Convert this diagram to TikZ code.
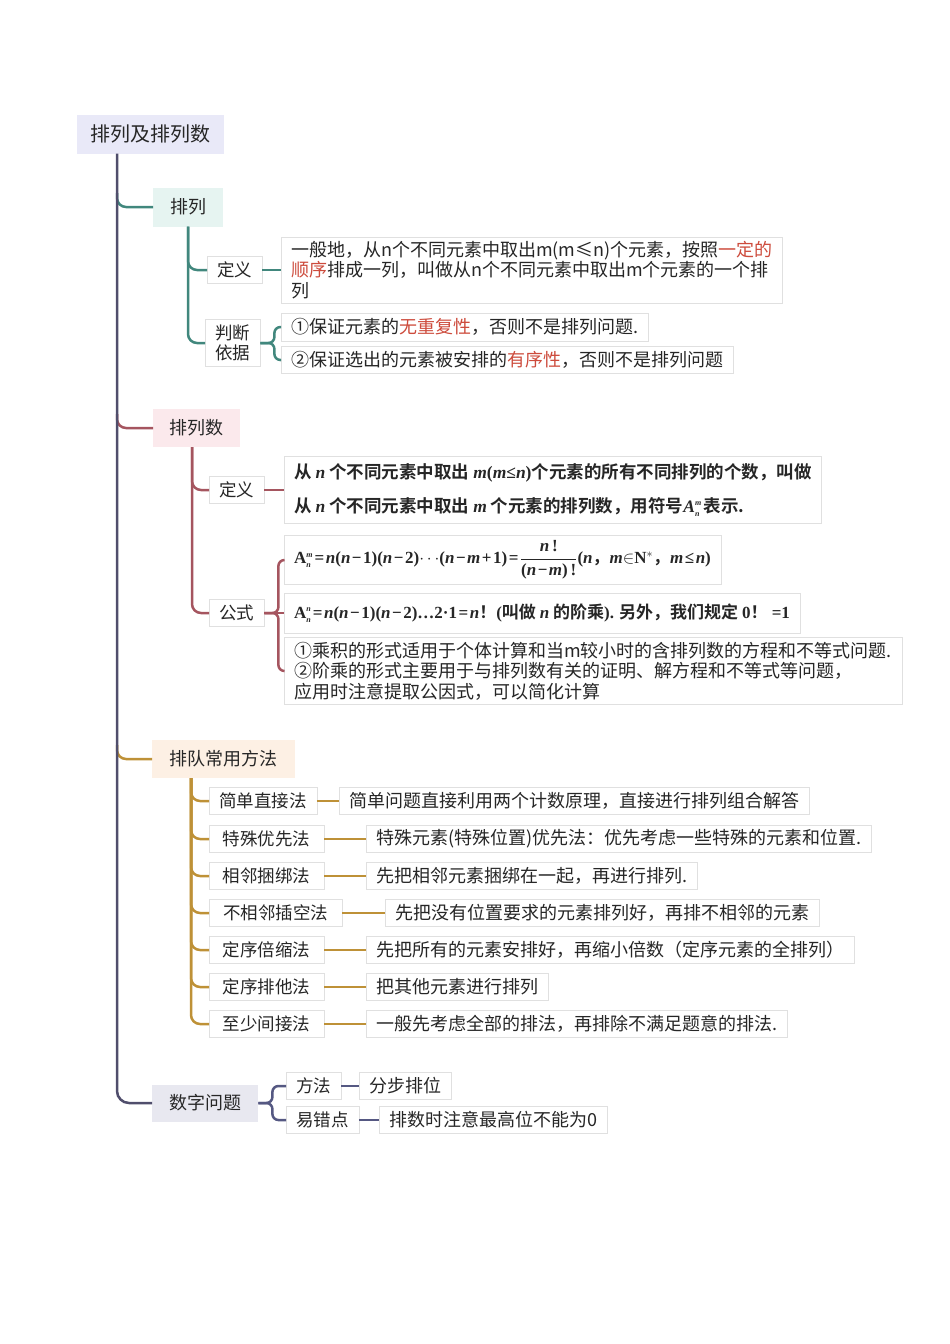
\documentclass[tikz,border=0pt]{standalone}
\usepackage{fontspec}
\setmainfont{Noto Sans CJK SC}[BoldFont={Noto Sans CJK SC Bold}]
\newfontfamily\tms{Liberation Serif}
\usetikzlibrary{positioning,calc}
\definecolor{spinec}{RGB}{80,78,108}
\definecolor{tealc}{RGB}{65,135,125}
\definecolor{pinkc}{RGB}{165,85,95}
\definecolor{goldc}{RGB}{190,145,55}
\definecolor{navyc}{RGB}{85,88,130}
\definecolor{rootf}{RGB}{233,233,248}
\definecolor{tealf}{RGB}{230,244,241}
\definecolor{pinkf}{RGB}{251,233,236}
\definecolor{goldf}{RGB}{253,240,228}
\definecolor{navyf}{RGB}{232,232,240}
\definecolor{hlred}{RGB}{205,75,60}
\newcommand\tm[1]{{\tms #1}}
\newcommand\vn[1]{{\tms\itshape #1}}
\newcommand\sstack[2]{$\hbox{\tm{A}}^{\hbox{\fontsize{8}{8}\selectfont\tms\itshape #1}}_{\hbox{\fontsize{8}{8}\selectfont\tms\itshape #2}}$}
\newcommand\hl[1]{\textcolor{hlred}{#1}}
\newcommand\op[1]{\kern1.5pt#1\kern1.5pt}
\tikzset{
  topic/.style={fill=#1, text=black!85, font=\fontsize{18}{22}\selectfont, inner sep=0pt, anchor=west},
  leaf/.style={draw=black!12, fill=white, text=black!85, font=\fontsize{17.5}{20.5}\selectfont, inner ysep=0pt, inner xsep=10pt, anchor=west, minimum height=27pt},
  desc/.style={leaf, align=left, font=\fontsize{18}{20.5}\selectfont},
  branch/.style={draw=#1, line width=2.5pt, rounded corners=9pt},
}

\begin{document}
\begin{tikzpicture}[x=1pt, y=-1pt]
    \useasboundingbox (0,0) rectangle (950,1344);

    % root
    \node[topic=rootf, minimum width=147pt, minimum height=39pt, font=\fontsize{20}{24}\selectfont] (root) at (77,134) {排列及排列数};
    \coordinate (sp) at ([xshift=40pt]root.south west);

    % 排列
    \node[topic=tealf, minimum width=70pt, minimum height=39pt] (pl) at (153,207) {排列};
    \node[leaf, minimum width=49pt] (pldy) at (207,270) {定义};
    \node[desc, minimum height=66pt] (pldesc) at (281,270) {一般地，从n个不同元素中取出m(m≤n)个元素，按照\hl{一定的}\\\hl{顺序}排成一列，叫做从n个不同元素中取出m个元素的一个排\\列};
    \node[leaf, minimum width=49pt, minimum height=47pt, align=center] (plyj) at (205,343) {判断\\依据};
    \node[desc, minimum height=28pt] (pdb1) at (281,327) {①保证元素的\hl{无重复性}，否则不是排列问题.};
    \node[desc] (pdb2) at (281,360) {②保证选出的元素被安排的\hl{有序性}，否则不是排列问题};

    % 排列数
    \node[topic=pinkf, minimum width=87pt, minimum height=38pt] (pls) at (153,428) {排列数};
    \node[leaf, minimum width=48pt] (psdy) at (209,490) {定义};
    \node[desc, minimum height=67pt, font=\bfseries\fontsize{17.5}{34}\selectfont] (psdesc) at (284,490) {从 \vn{n} 个不同元素中取出 \vn{m}\tm{(\vn{m}≤\vn{n})}个元素的所有不同排列的个数，叫做\\从 \vn{n} 个不同元素中取出 \vn{m} 个元素的排列数，用符号{\itshape\sstack{m}{n}}\kern2pt 表示.};
    \node[leaf, minimum width=48pt] (psgs) at (209,613) {公式};
    \node[desc, minimum height=49pt, font=\bfseries\fontsize{17}{20}\selectfont] (psf1) at (284,560) {\sstack{m}{n}\tm{\op{=}\vn{n}(\vn{n}\op{−}1)(\vn{n}\op{−}2)}$\cdots$\tm{(\vn{n}\op{−}\vn{m}\op{+}1)\op{=}}$\displaystyle\frac{\hbox{\tm{\vn{n}\,!}}}{\hbox{\tm{(\vn{n}\op{−}\vn{m})\,!}}}$\tm{(\vn{n}}，\tm{\vn{m}}$\in$\tm{N}$^{*}$，\tm{\vn{m}\op{≤}\vn{n})}};
    \node[desc, minimum height=40pt, font=\bfseries\fontsize{17}{20}\selectfont] (psf2) at (284,613) {\sstack{n}{n}\tm{\op{=}\vn{n}(\vn{n}\op{−}1)(\vn{n}\op{−}2)…2·1\op{=}\vn{n}}！\tm{(}叫做 \vn{n} 的阶乘\tm{).} 另外，我们规定 \tm{0}！\tm{ =1}};
    \node[desc, minimum height=67pt] (psf3) at (284,671) {①乘积的形式适用于个体计算和当m较小时的含排列数的方程和不等式问题.\\②阶乘的形式主要用于与排列数有关的证明、解方程和不等式等问题，\\应用时注意提取公因式，可以简化计算};

    % 排队常用方法
    \node[topic=goldf, minimum width=143pt, minimum height=38pt] (pdff) at (152,759) {排队常用方法};
    \node[leaf, minimum width=104pt] (m1l) at (209,801) {简单直接法};
    \node[desc] (m1d) at (339,801) {简单问题直接利用两个计数原理，直接进行排列组合解答};
    \node[leaf, minimum width=115pt] (m2l) at (209,839) {特殊优先法};
    \node[desc] (m2d) at (366,839) {特殊元素(特殊位置)优先法：优先考虑一些特殊的元素和位置.};
    \node[leaf, minimum width=115pt] (m3l) at (209,876) {相邻捆绑法};
    \node[desc] (m3d) at (366,876) {先把相邻元素捆绑在一起，再进行排列.};
    \node[leaf, minimum width=133pt] (m4l) at (209,913) {不相邻插空法};
    \node[desc] (m4d) at (385,913) {先把没有位置要求的元素排列好，再排不相邻的元素};
    \node[leaf, minimum width=115pt] (m5l) at (209,950) {定序倍缩法};
    \node[desc] (m5d) at (366,950) {先把所有的元素安排好，再缩小倍数（定序元素的全排列）};
    \node[leaf, minimum width=115pt] (m6l) at (209,987) {定序排他法};
    \node[desc] (m6d) at (366,987) {把其他元素进行排列};
    \node[leaf, minimum width=115pt] (m7l) at (209,1024) {至少间接法};
    \node[desc] (m7d) at (366,1024) {一般先考虑全部的排法，再排除不满足题意的排法.};

    % 数字问题
    \node[topic=navyf, minimum width=106pt, minimum height=37pt] (szwt) at (152,1103) {数字问题};
    \node[leaf, minimum width=48pt] (ff) at (286,1086) {方法};
    \node[desc] (ffd) at (359,1086) {分步排位};
    \node[leaf, minimum width=65pt] (ycd) at (286,1120) {易错点};
    \node[desc] (ycdd) at (379,1120) {排数时注意最高位不能为0};

    % branches off the spine
    \draw[branch=tealc] ($(sp |- pl.west)+(0,-14)$) |- (pl.west);
    \draw[branch=pinkc] ($(sp |- pls.west)+(0,-14)$) |- (pls.west);
    \draw[branch=goldc] ($(sp |- pdff.west)+(0,-14)$) |- (pdff.west);
    \draw[branch=spinec, rounded corners=12pt] (sp) |- (szwt.west);

    % 排列 links
    \coordinate (plv) at ([xshift=35pt]pl.south west);
    \draw[branch=tealc] (plv) |- (pldy.west);
    \draw[branch=tealc] (plv) |- (plyj.west);
    \draw[branch=tealc] (pldy.east) -- (pldesc.west);
    \coordinate (plk) at ([xshift=14pt]plyj.east);
    \draw[branch=tealc, rounded corners=6pt] (plyj.east) -- (plk) |- (pdb1.west);
    \draw[branch=tealc, rounded corners=6pt] (plyj.east) -- (plk) |- (pdb2.west);

    % 排列数 links
    \coordinate (psv) at ([xshift=39pt]pls.south west);
    \draw[branch=pinkc] (psv) |- (psdy.west);
    \draw[branch=pinkc] (psv) |- (psgs.west);
    \draw[branch=pinkc] (psdy.east) -- (psdesc.west);
    \coordinate (psk) at ([xshift=14pt]psgs.east);
    \draw[branch=pinkc, rounded corners=6pt] (psgs.east) -- (psk) |- (psf1.west);
    \draw[branch=pinkc] (psgs.east) -- (psf2.west);
    \draw[branch=pinkc, rounded corners=6pt] (psgs.east) -- (psk) |- (psf3.west);

    % 排队常用方法 links
    \coordinate (pdv) at ([xshift=39pt]pdff.south west);
    \draw[branch=goldc] (pdv) |- (m1l.west);
    \draw[branch=goldc] (pdv) |- (m2l.west);
    \draw[branch=goldc] (pdv) |- (m3l.west);
    \draw[branch=goldc] (pdv) |- (m4l.west);
    \draw[branch=goldc] (pdv) |- (m5l.west);
    \draw[branch=goldc] (pdv) |- (m6l.west);
    \draw[branch=goldc] (pdv) |- (m7l.west);
    \draw[branch=goldc] (m1l.east) -- (m1d.west);
    \draw[branch=goldc] (m2l.east) -- (m2d.west);
    \draw[branch=goldc] (m3l.east) -- (m3d.west);
    \draw[branch=goldc] (m4l.east) -- (m4d.west);
    \draw[branch=goldc] (m5l.east) -- (m5d.west);
    \draw[branch=goldc] (m6l.east) -- (m6d.west);
    \draw[branch=goldc] (m7l.east) -- (m7d.west);

    % 数字问题 links
    \coordinate (szk) at ([xshift=14pt]szwt.east);
    \draw[branch=navyc, rounded corners=6pt] (szwt.east) -- (szk) |- (ff.west);
    \draw[branch=navyc, rounded corners=6pt] (szwt.east) -- (szk) |- (ycd.west);
    \draw[branch=navyc] (ff.east) -- (ffd.west);
    \draw[branch=navyc] (ycd.east) -- (ycdd.west);
\end{tikzpicture}
\end{document}
